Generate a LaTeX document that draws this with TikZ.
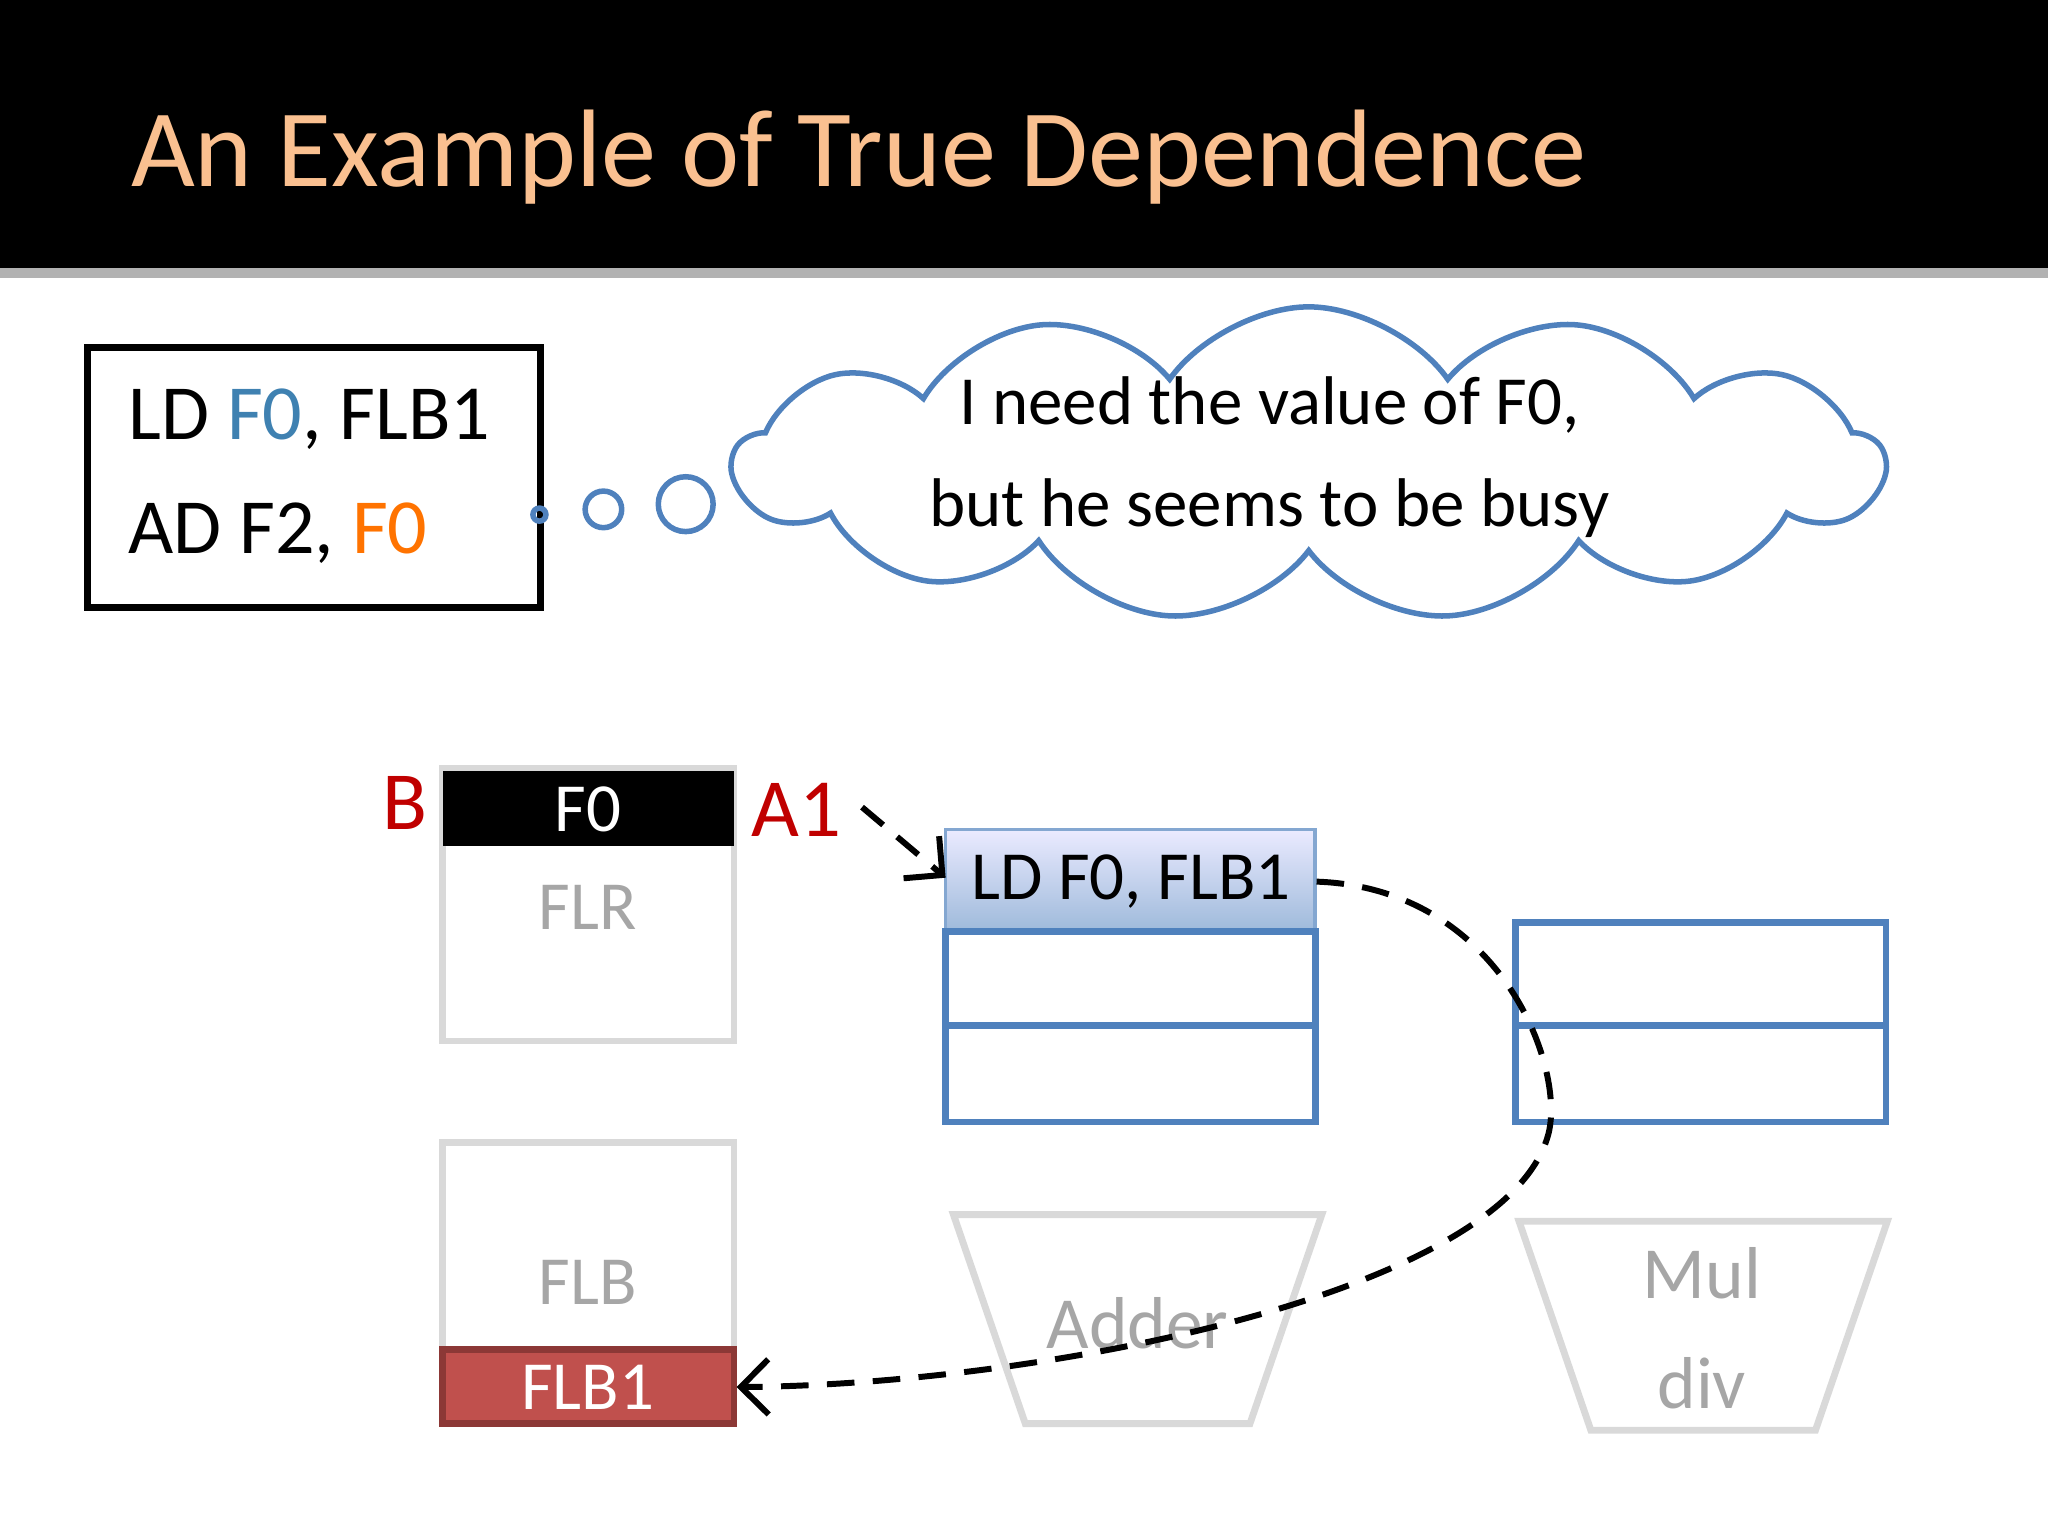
\documentclass[tikz,border=0pt]{standalone}
\usepackage{fontspec}
\setmainfont{Carlito}
\usetikzlibrary{shapes.symbols,arrows.meta}
\definecolor{tit}{HTML}{FAC090}
\definecolor{bl}{HTML}{4F81BD}
\definecolor{gr}{HTML}{D9D9D9}
\definecolor{gt}{HTML}{A6A6A6}
\definecolor{rd}{HTML}{C00000}
\begin{document}
\begin{tikzpicture}[x=0.01cm,y=-0.01cm,
  regbox/.style={draw=gr,line width=1.5pt},
  rsbox/.style={draw=bl,line width=1.5pt},
  fu/.style={draw=gr,line width=1.5pt},
  dsh/.style={line width=1.3pt,dash pattern=on 6pt off 4pt}]
\useasboundingbox (0,0) rectangle (1568,1176);
\fill[black] (0,0) rectangle (1568,205);
\fill[gray!60] (0,205) rectangle (1568,213);
\node[anchor=west,text=tit,font=\fontsize{24}{28}\selectfont] (title) at (88,120) {An Example of True Dependence};
% code box
\draw[line width=1.5pt] (67,266) rectangle (414,465);
\node[anchor=west,font=\fontsize{17}{20}\selectfont] (l1) at (86,321) {LD \textcolor{bl!80!teal}{F0}, FLB1};
\node[anchor=west,font=\fontsize{17}{20}\selectfont] (l2) at (86,408) {AD F2, \textcolor{orange!90!red}{F0}};
% bubbles
\draw[bl,line width=1.2pt] (413,394) circle (5) (462,390) circle (14) (525,386) circle (21);
\node[cloud,cloud puffs=13,cloud puff arc=110,aspect=3.4,draw=bl,line width=1.2pt,minimum width=8.8cm,minimum height=2.4cm] (cl) at (1002,355) {};
\node[align=center,font=\fontsize{15}{22}\selectfont] (ct) at (972,350) {I need the value of F0,\\but he seems to be busy};
% FLR
\draw[regbox] (339,588) rectangle (562,797);
\fill[black] (339,590) rectangle (562,648);
\node[text=white,font=\fontsize{15}{18}\selectfont] (f0) at (450,620) {F0};
\node[text=gt,font=\fontsize{15}{18}\selectfont] (flr) at (450,695) {FLR};
\node[text=rd,font=\fontsize{18}{20}\selectfont] (B) at (310,615) {B};
\node[text=rd,font=\fontsize{18}{20}\selectfont] (A1) at (610,620) {A1};
% FLB
\draw[regbox] (339,875) rectangle (562,1090);
\node[text=gt,font=\fontsize{15}{18}\selectfont] (flb) at (450,982) {FLB};
\draw[fill={rgb,255:red,192;green,80;blue,77},draw={rgb,255:red,140;green,56;blue,54},line width=1.5pt] (339,1033) rectangle (562,1090);
\node[text=white,font=\fontsize{15}{18}\selectfont] (flb1) at (450,1062) {FLB1};
\coordinate (flbE) at (564,1062);
% RS adder
\shade[top color=blue!8,bottom color=bl!55] (724,635) rectangle (1007,713);
\draw[bl!70,line width=0.8pt] (724,635) rectangle (1007,713);
\node[font=\fontsize{15}{18}\selectfont] (ld) at (866,675) {LD F0, FLB1};
\coordinate (ldW) at (724,672);
\coordinate (ldE) at (1008,675);
\coordinate (a1e) at (660,618);
\draw[rsbox] (724,713) rectangle (1007,785) (724,785) rectangle (1007,859);
\draw[rsbox] (1160,706) rectangle (1444,785) (1160,785) rectangle (1444,859);
% FUs
\draw[fu] (730,930) -- (1012,930) -- (957,1090) -- (785,1090) -- cycle;
\node[text=gt,font=\fontsize{16}{18}\selectfont] (add) at (871,1013) {Adder};
\draw[fu] (1163,935) -- (1445,935) -- (1390,1095) -- (1218,1095) -- cycle;
\node[text=gt,align=center,font=\fontsize{16}{24}\selectfont] (mul) at (1303,1017) {Mul\\div};
% arrows
\draw[dsh,-{Straight Barb[length=6pt]}] (a1e) -- (ldW);
\draw[dsh,-{Straight Barb[length=6pt]}] (ldE) .. controls (1150,680) and (1200,820) .. (1185,870) .. controls (1150,990) and (800,1060) .. (flbE);
\end{tikzpicture}
\end{document}
